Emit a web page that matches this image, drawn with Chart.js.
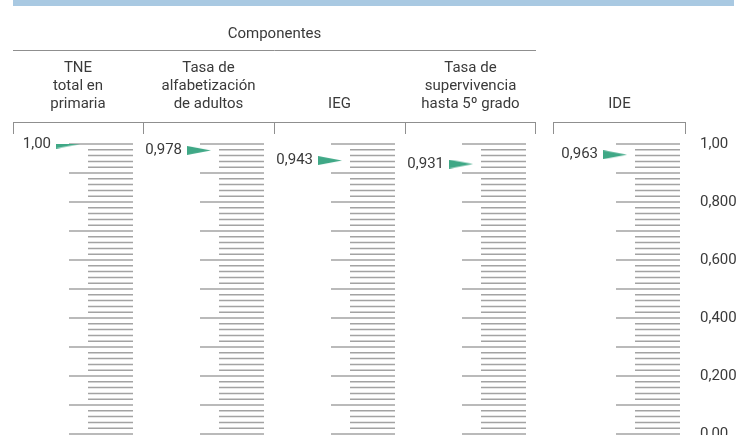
<!DOCTYPE html>
<html>
<head>
<meta charset="utf-8">
<script src="https://cdn.jsdelivr.net/npm/chart.js@4"></script>
<style>
  body { margin: 0; background: #fff; }
  #wrap { width: 745px; height: 435px; position: relative; }
</style>
</head>
<body>
<div id="wrap"><canvas id="myChart"></canvas></div>
<script>
document.addEventListener('DOMContentLoaded', function() {

    //data
    const groupTitle = 'Componentes';
    const categories = [
        ['TNE', 'total en', 'primaria'],
        ['Tasa de', 'alfabetización', 'de adultos'],
        ['IEG'],
        ['Tasa de', 'supervivencia', 'hasta 5º grado'],
        ['IDE']
    ];
    const values = [1.00, 0.978, 0.943, 0.931, 0.963];
    const valueLabels = ['1,00', '0,978', '0,943', '0,931', '0,963'];
    const axisTicks = [0, 0.2, 0.4, 0.6, 0.8, 1.0];
    const axisTickLabels = ['0,00', '0,200', '0,400', '0,600', '0,800', '1,00'];

    //layout (pixels)
    const sections = [[13, 143], [143, 274], [274, 405], [405, 536], [553, 686]];
    const rulerRight = [133, 264, 395, 526, 680];
    const groupEnd = 536;

    const font = "Roboto, 'DejaVu Sans Condensed', sans-serif";
    const fontSize = 15;
    const textColor = '#3a3a3a';
    const green = '#3fa886';

    //elongated arrow used as point style
    const arrow = document.createElement('canvas');
    arrow.width = 24;
    arrow.height = 9;
    let actx = arrow.getContext('2d');
    actx.fillStyle = green;
    actx.beginPath();
    actx.moveTo(0, 0);
    actx.lineTo(24, 4.5);
    actx.lineTo(0, 9);
    actx.closePath();
    actx.fill();

    //headers, brackets and ruler ticks
    const decorations = {
        id: 'decorations',
        beforeDatasetsDraw(chart) {
            const ctx = chart.ctx;
            const yScale = chart.scales.y;
            ctx.save();

            //top blue band
            ctx.fillStyle = '#a9c9e2';
            ctx.fillRect(13, 0, 721, 6);

            //group title and rule
            ctx.fillStyle = textColor;
            ctx.font = fontSize + 'px ' + font;
            ctx.textAlign = 'center';
            ctx.textBaseline = 'alphabetic';
            ctx.fillText(groupTitle, (sections[0][0] + groupEnd) / 2, 38);

            ctx.strokeStyle = '#8f8f8f';
            ctx.lineWidth = 1;
            ctx.beginPath();
            ctx.moveTo(13, 50.5);
            ctx.lineTo(groupEnd, 50.5);
            ctx.stroke();

            //column headers, bottom aligned
            categories.forEach((lines, i) => {
                let cx = (sections[i][0] + sections[i][1]) / 2;
                lines.forEach((line, j) => {
                    let y = 108 - (lines.length - 1 - j) * 18;
                    ctx.fillText(line, cx, y);
                });
            });

            //brackets
            ctx.strokeStyle = '#8f8f8f';
            ctx.lineWidth = 1;
            ctx.beginPath();
            ctx.moveTo(13, 122.5);
            ctx.lineTo(groupEnd, 122.5);
            for (let i = 0; i < 4; i++) {
                ctx.moveTo(sections[i][0] + 0.5, 122);
                ctx.lineTo(sections[i][0] + 0.5, 134);
            }
            ctx.moveTo(groupEnd - 0.5, 122);
            ctx.lineTo(groupEnd - 0.5, 134);
            ctx.moveTo(sections[4][0] + 0.5, 122.5);
            ctx.lineTo(sections[4][1] - 0.5, 122.5);
            ctx.moveTo(sections[4][0] + 0.5, 122);
            ctx.lineTo(sections[4][0] + 0.5, 134);
            ctx.moveTo(sections[4][1] - 0.5, 122);
            ctx.lineTo(sections[4][1] - 0.5, 134);
            ctx.stroke();

            //rulers: minor every 0.02, major every 0.1
            ctx.strokeStyle = '#a3a3a3';
            ctx.lineWidth = 1.5;
            rulerRight.forEach(right => {
                for (let k = 0; k <= 50; k++) {
                    let y = yScale.getPixelForValue(k / 50);
                    let left = (k % 5 === 0) ? right - 64 : right - 45;
                    ctx.beginPath();
                    ctx.moveTo(left, y);
                    ctx.lineTo(right, y);
                    ctx.stroke();
                }
            });
            ctx.restore();
        },
        afterDatasetsDraw(chart) {
            const ctx = chart.ctx;
            const meta = chart.getDatasetMeta(0);
            ctx.save();
            ctx.fillStyle = textColor;
            ctx.font = fontSize + 'px ' + font;
            ctx.textAlign = 'right';
            ctx.textBaseline = 'middle';
            meta.data.forEach((pt, i) => {
                ctx.fillText(valueLabels[i], pt.x - 17, pt.y);
            });
            ctx.restore();
        }
    };

    let ctx = document.getElementById('myChart').getContext('2d');

    let myChart = new Chart(ctx, {
        type: 'scatter',
        data: {
            datasets: [{
                data: values.map((v, i) => ({ x: rulerRight[i] - 65, y: v })),
                pointStyle: arrow,
                pointRadius: 6
            }]
        },
        options: {
            responsive: true,
            maintainAspectRatio: false,
            animation: false,
            layout: {
                autoPadding: false,
                padding: { top: 144, bottom: 1, left: 0, right: 0 }
            },
            plugins: {
                legend: { display: false },
                tooltip: { enabled: false }
            },
            scales: {
                x: {
                    type: 'linear',
                    min: 0,
                    max: 695,
                    display: false
                },
                y: {
                    position: 'right',
                    min: 0,
                    max: 1,
                    afterBuildTicks: (scale) => {
                        scale.ticks = axisTicks.map(v => ({ value: v }));
                    },
                    afterFit: (scale) => {
                        //fixed width, and no extra room for the half-cut bottom label
                        scale.width = 50;
                        scale.paddingTop = 0;
                        scale.paddingBottom = 0;
                    },
                    grid: { display: false, drawTicks: false },
                    border: { display: false },
                    ticks: {
                        padding: 5,
                        color: textColor,
                        font: { family: font, size: fontSize },
                        callback: (value) => axisTickLabels[axisTicks.indexOf(value)]
                    }
                }
            }
        },
        plugins: [decorations]
    });
});
</script>
</body>
</html>
